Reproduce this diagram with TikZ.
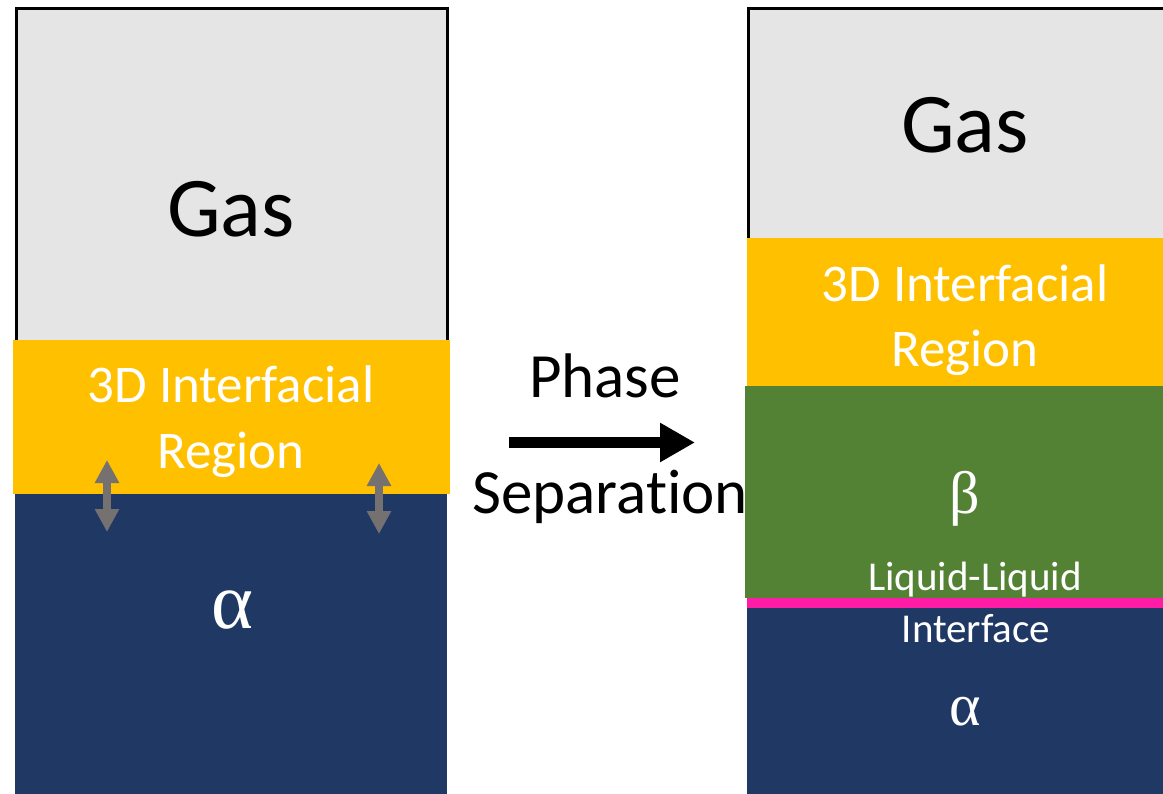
\documentclass[tikz,border=0pt]{standalone}
\usepackage{fontspec}
\setmainfont[Ligatures=NoCommon]{Carlito}
\newfontfamily\greekfont{Liberation Serif}
\usetikzlibrary{arrows.meta}
\definecolor{gasgray}{HTML}{E5E5E5}
\definecolor{ifyellow}{HTML}{FFC000}
\definecolor{alphanavy}{HTML}{203864}
\definecolor{betagreen}{HTML}{548235}
\definecolor{llpink}{HTML}{FF1DA5}
\definecolor{arrgray}{HTML}{767171}
\tikzset{
  gasbox/.style={fill=gasgray,draw=black,line width=3pt},
  txt/.style={inner sep=0pt,anchor=base},
  bigtxt/.style={txt,font=\fontsize{85}{100}\selectfont},
  midtxt/.style={txt,text=white,font=\fontsize{53}{64}\selectfont},
  phtxt/.style={txt,font=\fontsize{63}{75}\selectfont},
  smtxt/.style={txt,text=white,font=\fontsize{41}{50}\selectfont},
  grk/.style={txt,text=white},
  dblarrow/.style={draw=arrgray,line width=8pt,{Triangle[length=23pt,width=23pt]}-{Triangle[length=23pt,width=23pt]}},
  mainarrow/.style={draw=black,line width=11pt,-{Triangle[length=35pt,width=37pt]}}
}
\begin{document}
\begin{tikzpicture}[x=1pt,y=-1pt]
\useasboundingbox (0,0) rectangle (1163,794);
\clip (0,0) rectangle (1163,794);
% left column
\path[gasbox] (16,9) rectangle (447.5,360);
\fill[ifyellow] (13,340) rectangle (449.5,494);
\fill[alphanavy] (15,494) rectangle (447,800);
\node[bigtxt] (lgas) at (231,237) {Gas};
\node[midtxt] (lif1) at (231,403) {3D Interfacial};
\node[midtxt] (lif2) at (231,468) {Region};
\node[grk,font=\greekfont\fontsize{80}{90}\selectfont] (lalpha) at (232,628) {α};
\coordinate (la1t) at (107,460);
\coordinate (la1b) at (107,532);
\coordinate (la2t) at (379,463);
\coordinate (la2b) at (379,534);
\draw[dblarrow] (la1t) -- (la1b);
\draw[dblarrow] (la2t) -- (la2b);
% middle arrow
\coordinate (ms) at (509,442.5);
\coordinate (me) at (695,442.5);
\draw[mainarrow] (ms) -- (me);
\node[phtxt] (phase) at (605,398) {Phase};
\node[phtxt] (sep) at (610,513) {Separation};
% right column
\path[gasbox] (748,9) rectangle (1175,300);
\fill[ifyellow] (747,238) rectangle (1170,386);
\fill[betagreen] (745,386) rectangle (1170,598);
\fill[llpink] (747,598) rectangle (1170,608);
\fill[alphanavy] (747,608) rectangle (1170,800);
\node[bigtxt] (rgas) at (965,153) {Gas};
\node[midtxt] (rif1) at (965,302) {3D Interfacial};
\node[midtxt] (rif2) at (965,367) {Region};
\node[grk,font=\greekfont\fontsize{60}{70}\selectfont] (rbeta) at (965,513) {β};
\node[smtxt] (ll1) at (975,590) {Liquid-Liquid};
\node[smtxt] (ll2) at (976,642) {Interface};
\node[grk,font=\greekfont\fontsize{60}{70}\selectfont] (ralpha) at (965,725) {α};
\end{tikzpicture}
\end{document}
